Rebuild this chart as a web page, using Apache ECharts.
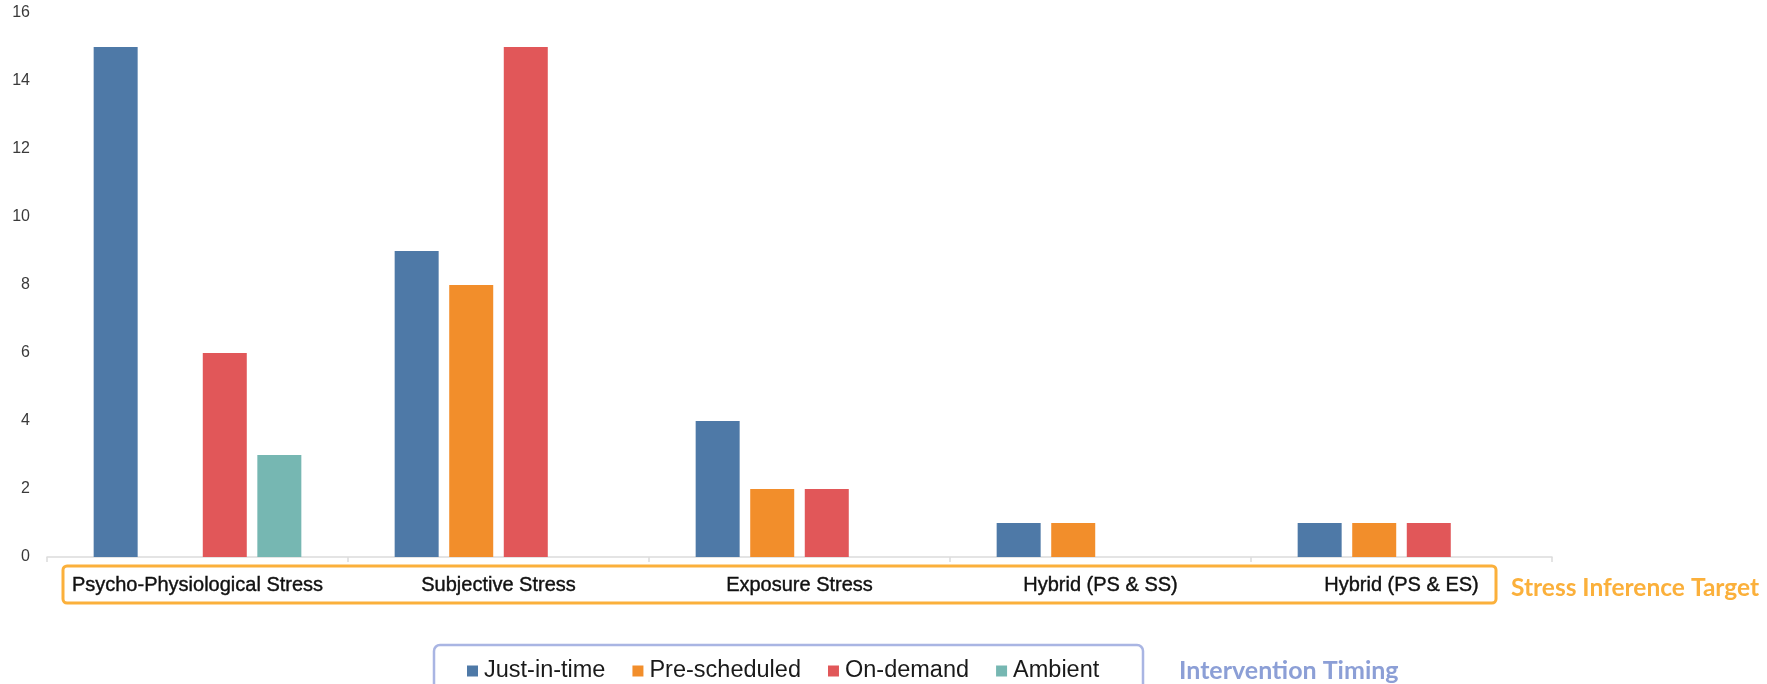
<!DOCTYPE html>
<html>
<head>
<meta charset="utf-8">
<script src="https://cdn.jsdelivr.net/npm/echarts/dist/echarts.min.js"></script>
<style>
  html, body { margin: 0; padding: 0; background: #ffffff; }
  #chart { width: 1767px; height: 684px; }
</style>
</head>
<body>
<div id="chart"></div>
<script>
// Stress inference targets on the category axis
const categories = [
  'Psycho-Physiological Stress',
  'Subjective Stress',
  'Exposure Stress',
  'Hybrid (PS & SS)',
  'Hybrid (PS & ES)'
];

// Number of studies per intervention timing (null = no bar)
const justInTime   = [15, 9, 4, 1, 1];
const preScheduled = [null, 8, 2, 1, 1];
const onDemand     = [6, 15, 2, null, 1];
const ambient      = [3, null, null, null, null];

const seriesNames  = ['Just-in-time', 'Pre-scheduled', 'On-demand', 'Ambient'];
const seriesColors = ['#4e79a7', '#f28e2b', '#e15759', '#76b7b2'];
const seriesData   = [justInTime, preScheduled, onDemand, ambient];

const yTicks = { min: 0, max: 16, interval: 2 };

const chart = echarts.init(document.getElementById('chart'));

chart.setOption({
  animation: false,
  backgroundColor: '#ffffff',
  grid: { left: 47, right: 215, top: 13, bottom: 127, containLabel: false },
  legend: {
    data: seriesNames,
    left: 462,
    top: 654,
    icon: 'rect',
    itemWidth: 11,
    itemHeight: 11,
    itemGap: 27,
    textStyle: {
      fontFamily: 'Liberation Sans, Arial, sans-serif',
      fontSize: 23.5,
      color: '#1a1a1a',
      padding: [0, 0, 0, 1]
    }
  },
  xAxis: {
    type: 'category',
    data: categories,
    axisLine: { lineStyle: { color: '#dcdcdc', width: 1.5 } },
    axisTick: { show: true, interval: 0, length: 5, lineStyle: { color: '#dcdcdc', width: 1.5 } },
    axisLabel: {
      interval: 0,
      margin: 18,
      fontFamily: 'Liberation Sans, Arial, sans-serif',
      fontSize: 20,
      color: '#111111',
      textBorderColor: '#111111',
      textBorderWidth: 0.4
    }
  },
  yAxis: {
    type: 'value',
    min: yTicks.min,
    max: yTicks.max,
    interval: yTicks.interval,
    axisLine: { show: false },
    axisTick: { show: false },
    splitLine: { show: false },
    axisLabel: {
      margin: 17,
      fontFamily: 'Liberation Sans, Arial, sans-serif',
      fontSize: 16,
      color: '#3a3a3a'
    }
  },
  series: seriesNames.map((name, i) => ({
    name: name,
    type: 'bar',
    data: seriesData[i],
    barWidth: 44,
    barGap: '24%',
    itemStyle: { color: seriesColors[i] }
  })),
  graphic: [
    {
      type: 'rect',
      shape: { x: 63, y: 566, width: 1433, height: 37, r: 4 },
      style: { fill: 'none', stroke: '#fbb03b', lineWidth: 3 },
      silent: true
    },
    {
      type: 'text',
      x: 1511,
      y: 588,
      style: {
        text: 'Stress Inference Target',
        fill: '#fbb03b',
        font: 'bold 24.5px Lato, "Open Sans", sans-serif',
        textVerticalAlign: 'middle'
      }
    },
    {
      type: 'rect',
      shape: { x: 434, y: 645, width: 709, height: 70, r: 6 },
      style: { fill: 'none', stroke: '#a9b5e3', lineWidth: 2.5 },
      silent: true
    },
    {
      type: 'text',
      x: 1179,
      y: 671,
      style: {
        text: 'Intervention Timing',
        fill: '#8c9fd6',
        font: 'bold 25px Lato, "Open Sans", sans-serif',
        textVerticalAlign: 'middle'
      }
    }
  ]
});
</script>
</body>
</html>
